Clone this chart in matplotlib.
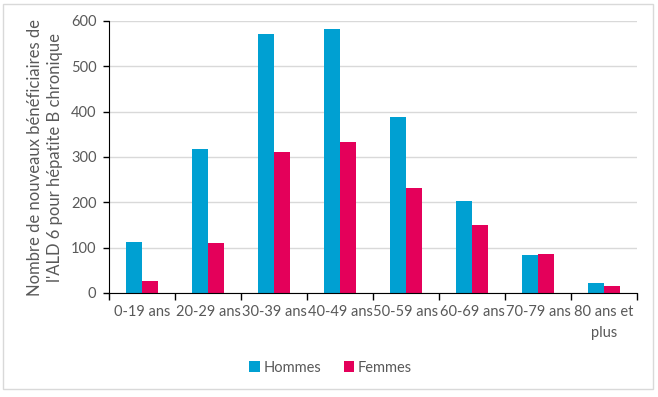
import numpy as np
import matplotlib.pyplot as plt
from matplotlib.patches import Rectangle

categories = ['0-19 ans', '20-29 ans', '30-39 ans', '40-49 ans', '50-59 ans',
              '60-69 ans', '70-79 ans', '80 ans et\nplus']
hommes = [113, 317, 571, 582, 388, 202, 83, 21]
femmes = [27, 111, 310, 332, 231, 151, 87, 16]

plt.rcParams['font.family'] = ['Lato', 'DejaVu Sans']
gris = '#595959'

fig = plt.figure(figsize=(6.58, 3.97), dpi=100)
ax = fig.add_axes([109 / 658, 1 - 293 / 397, 528 / 658, 272 / 397])

x = np.arange(len(categories))
w = 0.235
ax.bar(x - w / 2, hommes, w, color='#00A0D2', label='Hommes')
ax.bar(x + w / 2, femmes, w, color='#E4005A', label='Femmes')

ax.set_xlim(-0.5, len(categories) - 0.5)
ax.set_ylim(0, 600)
ax.set_yticks(range(0, 601, 100))
ax.yaxis.grid(True, color='#D9D9D9', linewidth=1)
ax.set_axisbelow(True)

ax.set_xticks(x)
ax.set_xticklabels(categories, fontsize=10.5, color=gris, linespacing=1.6)
ax.set_xticks(np.arange(-0.5, len(categories)), minor=True)
ax.tick_params(axis='x', which='major', length=0, pad=9)
ax.tick_params(axis='x', which='minor', length=5, width=1, color='black')
ax.tick_params(axis='y', length=4, width=1, color='black', labelsize=10.5,
               labelcolor=gris, pad=5)

for s in ['top', 'right']:
    ax.spines[s].set_visible(False)
ax.spines['left'].set_color('black')
ax.spines['bottom'].set_color('black')

ax.set_ylabel("Nombre de nouveaux bénéficiaires de\nl'ALD 6 pour hépatite B chronique",
              fontsize=12, color=gris, labelpad=6, linespacing=1.3)

ax.legend(loc='upper center', bbox_to_anchor=(0.42, -0.2), ncol=2, frameon=False,
          fontsize=10.5, labelcolor=gris, handlelength=0.7, handleheight=0.7,
          handletextpad=0.3, columnspacing=1.5)

fig.patches.append(Rectangle((3 / 658, 1 - 389 / 397), 650 / 658, 385 / 397,
                             transform=fig.transFigure, fill=False,
                             edgecolor='#D9D9D9', linewidth=1))

fig.savefig('out.png', dpi=100)
